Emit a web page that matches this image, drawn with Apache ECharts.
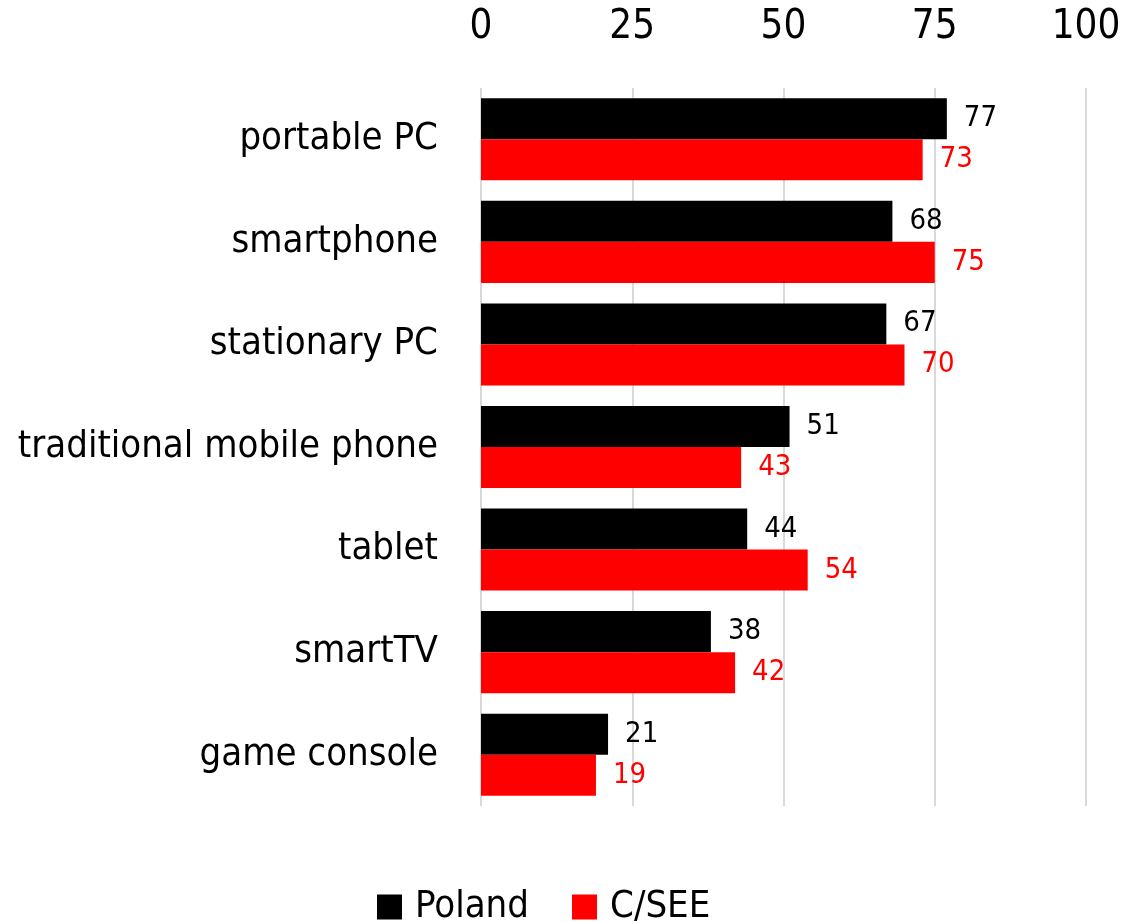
<!DOCTYPE html>
<html><head><meta charset="utf-8">
<script src="https://cdn.jsdelivr.net/npm/echarts@6/dist/echarts.min.js"></script>
<style>html,body{margin:0;padding:0;background:#fff}#c{width:1136px;height:922px}</style>
</head><body><div id="c"></div>
<script>
const categories = ['portable PC','smartphone','stationary PC','traditional mobile phone','tablet','smartTV','game console'];
const poland = [77,68,67,51,44,38,21];
const csee = [73,75,70,43,54,42,19];
const FONT = '"Liberation Sans Narrow","DejaVu Sans Condensed","Roboto Condensed",sans-serif';
const chart = echarts.init(document.getElementById('c'));
chart.setOption({
  animation:false,
  textStyle:{fontFamily:FONT},
  grid:{left:481,top:88,width:605,height:718,containLabel:false},
  legend:{top:883,left:372,itemWidth:25,itemHeight:25,itemGap:43,icon:'rect',
    textStyle:{fontFamily:FONT,fontSize:38,color:'#000',padding:[0,0,0,8]},data:['Poland','C/SEE']},
  xAxis:{type:'value',position:'top',min:0,max:100,interval:25,
    axisLine:{show:false},axisTick:{show:false},
    splitLine:{lineStyle:{color:'#d9d9d9',width:2}},
    axisLabel:{fontFamily:FONT,fontSize:40,color:'#000',margin:40}},
  yAxis:{type:'category',inverse:true,data:categories,
    axisLine:{show:false},axisTick:{show:false},
    axisLabel:{fontFamily:FONT,fontSize:38,color:'#000',margin:43}},
  series:[
    {name:'Poland',type:'bar',data:poland,barGap:'0%',barCategoryGap:'20%',itemStyle:{color:'#000'},
     label:{show:true,position:'right',distance:17,fontFamily:FONT,fontSize:29,color:'#000'}},
    {name:'C/SEE',type:'bar',data:csee,itemStyle:{color:'#ff0000'},
     label:{show:true,position:'right',distance:17,fontFamily:FONT,fontSize:29,color:'#ff0000'}}
  ]
});
</script></body></html>
